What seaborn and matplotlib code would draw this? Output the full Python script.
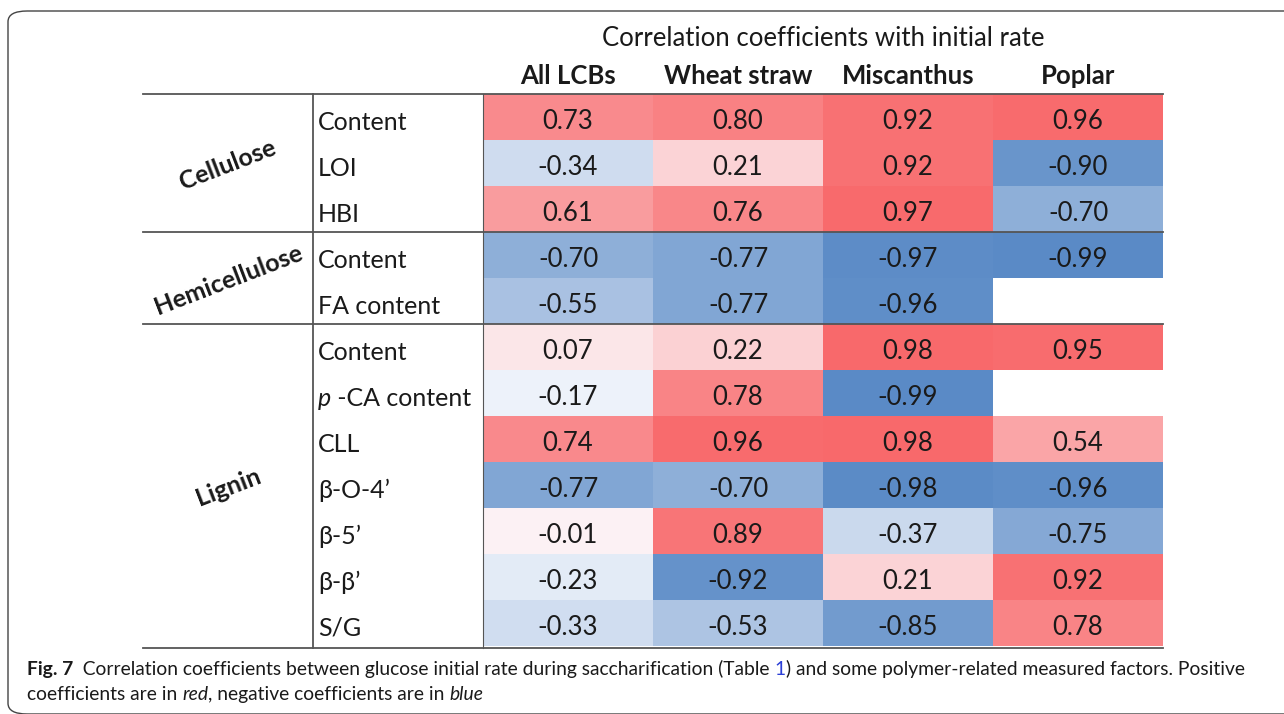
import numpy as np
import pandas as pd
import matplotlib
matplotlib.use('Agg')
import matplotlib.pyplot as plt
import seaborn as sns
from matplotlib.colors import LinearSegmentedColormap, TwoSlopeNorm
from matplotlib.patches import FancyBboxPatch

columns = ['All LCBs', 'Wheat straw', 'Miscanthus', 'Poplar']
groups = ['Cellulose', 'Hemicellulose', 'Lignin']
group_sizes = [3, 2, 7]
factors = ['Content', 'LOI', 'HBI', 'Content', 'FA content', 'Content',
           'p -CA content', 'CLL', 'β-O-4’', 'β-5’', 'β-β’', 'S/G']
all_lcbs = [0.73, -0.34, 0.61, -0.70, -0.55, 0.07, -0.17, 0.74, -0.77, -0.01, -0.23, -0.33]
wheat_straw = [0.80, 0.21, 0.76, -0.77, -0.77, 0.22, 0.78, 0.96, -0.70, 0.89, -0.92, -0.53]
miscanthus = [0.92, 0.92, 0.97, -0.97, -0.96, 0.98, -0.99, 0.98, -0.98, -0.37, 0.21, -0.85]
poplar = [0.96, -0.90, -0.70, -0.99, np.nan, 0.95, np.nan, 0.54, -0.96, -0.75, 0.92, 0.78]

df = pd.DataFrame({'All LCBs': all_lcbs, 'Wheat straw': wheat_straw,
                   'Miscanthus': miscanthus, 'Poplar': poplar})

W, H = 1284, 714
FONT = 'Lato'
INK = '#1a1a1a'
plt.rcParams['font.family'] = [FONT, 'DejaVu Sans']
fig = plt.figure(figsize=(W / 100, H / 100), dpi=100)
renderer = fig.canvas.get_renderer()

# excel-style red-white-blue scale, white at the median
cmap = LinearSegmentedColormap.from_list('rwb', ['#5A8AC6', '#FCFCFF', '#F8696B'])
vals = df.values[~np.isnan(df.values)]
norm = TwoSlopeNorm(vmin=vals.min(), vcenter=np.median(vals), vmax=vals.max())

x0, x1, y0, y1 = 483, 1163, 94, 646
ax = fig.add_axes([x0 / W, 1 - y1 / H, (x1 - x0) / W, (y1 - y0) / H])
sns.heatmap(df, ax=ax, cmap=cmap, norm=norm, cbar=False, annot=True, fmt='.2f',
            annot_kws={'fontsize': 18.5, 'color': INK, 'family': FONT},
            xticklabels=False, yticklabels=False)
ax.set_xlim(0, 4)
ax.set_ylim(12, 0)
ax.axis('off')
# numbers sit a bit low in their cells in the original
for t in ax.texts:
    t.set_color(INK)
    t.set_y(t.get_position()[1] + 0.1)

line_kw = dict(color='#555555', lw=1.3, clip_on=False)
ax.plot([-2, 4], [0, 0], **line_kw)
ax.plot([-2, 4], [12.04, 12.04], **line_kw)
cum = np.cumsum(group_sizes)
for c in cum[:-1]:
    ax.plot([-2, 4], [c, c], **line_kw)
ax.plot([-1, -1], [0, 12.04], **line_kw)
ax.plot([0, 0], [0, 12.04], color='#555555', lw=0.8, clip_on=False)


def run(pieces, x, y, size, va='baseline'):
    # place text pieces one after another, in pixel coords from top-left
    for txt, kw in pieces:
        t = fig.text(x / W, 1 - y / H, txt, fontsize=size, va=va,
                     color=kw.get('color', INK),
                     fontweight=kw.get('weight', 'normal'),
                     style=kw.get('style', 'normal'))
        x += t.get_window_extent(renderer).width


# factor labels
for i, name in enumerate(factors):
    yc = y0 + (i + 0.5) * (y1 - y0) / 12 + 5
    if name.startswith('p '):
        run([('p', {'style': 'italic'}), (name[1:], {})], 318, yc, 18, va='center')
    else:
        run([(name, {})], 318, yc, 18, va='center')

# group labels, tilted
starts = np.concatenate([[0], cum[:-1]])
for g, s, n in zip(groups, starts, group_sizes):
    ax.text(-1.5, s + n / 2 + 0.05, g, fontsize=18, fontweight='bold', rotation=21,
            ha='center', va='center', color=INK, rotation_mode='anchor')

# headers
for j, c in enumerate(columns):
    ax.text(j + 0.5, -0.39, c, fontsize=18.5, fontweight='bold', ha='center',
            va='center', color=INK)
ax.text(2, -1.2, 'Correlation coefficients with initial rate', fontsize=18.5,
        ha='center', va='center', color=INK)

# frame
fig.patches.append(FancyBboxPatch((8 / W, 0.0), 1.1, 1 - 11 / H,
                                  boxstyle='round,pad=0,rounding_size=0.015',
                                  transform=fig.transFigure, fill=False,
                                  ec='#444444', lw=1.0))

# caption with mixed styles
run([('Fig. 7', {'weight': 'bold'}),
     ('  Correlation coefficients between glucose initial rate during saccharification (Table ', {}),
     ('1', {'color': '#2b3fd6'}),
     (') and some polymer-related measured factors. Positive', {})], 27, 675, 13.9)
run([('coefficients are in ', {}), ('red', {'style': 'italic'}),
     (', negative coefficients are in ', {}), ('blue', {'style': 'italic'})], 27, 700, 13.9)

fig.savefig('out.png', dpi=100)
